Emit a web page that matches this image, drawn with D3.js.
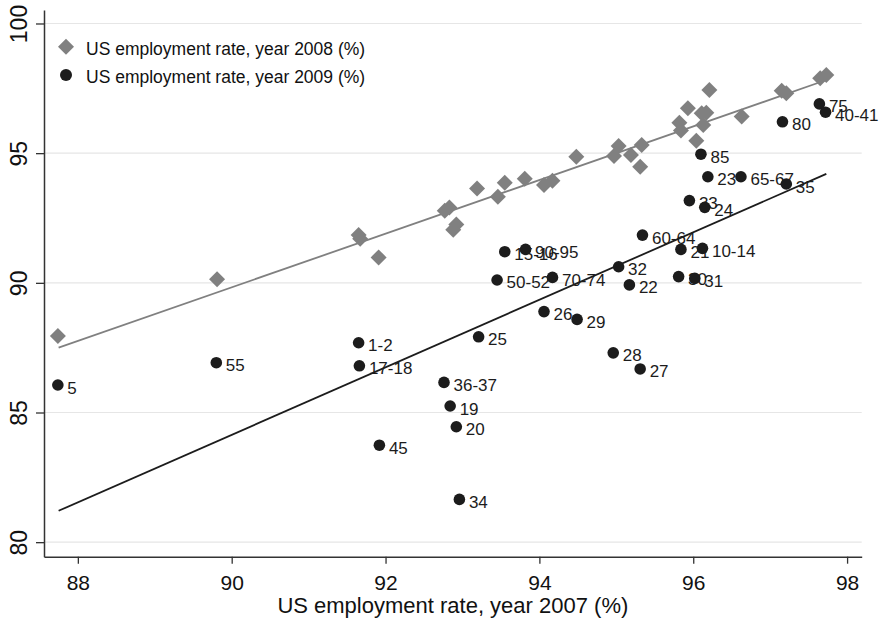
<!DOCTYPE html>
<html>
<head>
<meta charset="utf-8">
<script src="https://cdn.jsdelivr.net/npm/d3@7"></script>
<style>
  html, body { margin: 0; padding: 0; background: #fff; }
  svg { display: block; font-family: "Liberation Sans", Arial, Helvetica, sans-serif; }
</style>
</head>
<body>
<svg id="chart" width="884" height="622"></svg>
<script>
// Employment rate by industry: 2007 (x) against 2008 and 2009 (y), in percent.
const rate2007a = [87.74, 89.81, 91.65, 91.67, 91.91, 92.77, 92.83, 92.92, 92.88, 93.19,
                   93.46, 93.55, 93.81, 94.06, 94.17, 94.48, 94.97, 95.03, 95.19, 95.31,
                   95.33, 95.82, 95.84, 95.93, 96.04, 96.11, 96.13, 96.17, 96.21, 96.63,
                   97.15, 97.21, 97.65, 97.73];
const rate2008 = [87.95, 90.14, 91.84, 91.70, 90.98, 92.78, 92.90, 92.25, 92.05, 93.64,
                  93.32, 93.86, 94.01, 93.77, 93.94, 94.86, 94.89, 95.28, 94.93, 94.48,
                  95.31, 96.17, 95.87, 96.73, 95.48, 96.54, 96.09, 96.56, 97.44, 96.41,
                  97.41, 97.31, 97.89, 98.01];

const industryCodes = ["5", "55", "1-2", "17-18", "36-37", "19", "20", "45", "34", "25",
                       "15-16", "90-95", "50-52", "70-74", "26", "29", "32", "22", "60-64", "28",
                       "27", "21", "10-14", "30", "31", "33", "23", "24", "65-67", "35",
                       "85", "80", "75", "40-41"];
const rate2007b = [87.74, 89.80, 91.65, 91.66, 92.76, 92.84, 92.92, 91.92, 92.96, 93.21,
                   93.55, 93.82, 93.45, 94.17, 94.06, 94.49, 95.03, 95.17, 95.34, 94.96,
                   95.31, 95.84, 96.12, 95.81, 96.02, 95.95, 96.19, 96.15, 96.62, 97.21,
                   96.10, 97.16, 97.64, 97.72];
const rate2009 = [86.06, 86.92, 87.69, 86.80, 86.16, 85.25, 84.45, 83.74, 81.65, 87.92,
                  91.20, 91.29, 90.11, 90.21, 88.89, 88.59, 90.62, 89.92, 91.84, 87.30,
                  86.68, 91.29, 91.33, 90.24, 90.17, 93.17, 94.09, 92.91, 94.09, 93.81,
                  94.96, 96.21, 96.90, 96.58];

// Linear fit endpoints (x = 2007 rate, y = fitted rate)
const fit2008 = [[87.75, 87.50], [97.73, 97.82]];
const fit2009 = [[87.75, 81.21], [97.73, 94.20]];

const xTicks = [88, 90, 92, 94, 96, 98];
const yTicks = [80, 85, 90, 95, 100];
const legendLabels = ["US employment rate, year 2008 (%)", "US employment rate, year 2009 (%)"];
const xTitle = "US employment rate, year 2007 (%)";

const GRAY = "#808080";
const DARK = "#1c1c1c";

const svg = d3.select("#chart");
const x = d3.scaleLinear().domain([87.56, 98.19]).range([44, 861.7]);
const y = d3.scaleLinear().domain([79.44, 100.52]).range([556.7, 10]);

// horizontal grid lines
svg.append("g").selectAll("line").data(yTicks).join("line")
  .attr("x1", x.range()[0]).attr("x2", x.range()[1])
  .attr("y1", d => y(d)).attr("y2", d => y(d))
  .attr("stroke", "#e6e6e6").attr("stroke-width", 1.2);

// axes
const xAxis = svg.append("g").attr("transform", `translate(0,${y.range()[0]})`)
  .call(d3.axisBottom(x).tickValues(xTicks).tickFormat(d3.format("d")).tickSize(7).tickSizeOuter(0).tickPadding(8));
const yAxis = svg.append("g").attr("transform", `translate(${x.range()[0]},0)`)
  .call(d3.axisLeft(y).tickValues(yTicks).tickFormat(d3.format("d")).tickSize(8).tickSizeOuter(0));

[xAxis, yAxis].forEach(g => {
  g.select(".domain").attr("stroke", "#333").attr("stroke-width", 1.5);
  g.selectAll(".tick line").attr("stroke", "#333").attr("stroke-width", 1.3);
  g.selectAll("text").attr("fill", "#111")
    .style("font-family", "'Liberation Sans', Arial, Helvetica, sans-serif");
});
xAxis.selectAll(".tick text").style("font-size", "21px").attr("dy", null).attr("y", 33);
yAxis.selectAll(".tick text").style("font-size", "23px")
  .attr("x", null).attr("dy", null).attr("y", null)
  .attr("text-anchor", "middle")
  .attr("transform", "translate(-17,0) rotate(-90)");

svg.append("text")
  .attr("x", (x.range()[0] + x.range()[1]) / 2).attr("y", 613)
  .attr("text-anchor", "middle").attr("fill", "#111")
  .style("font-size", "22px").text(xTitle);

const diamond = d3.symbol().type(d3.symbolSquare).size(128);

// 2008 markers
svg.append("g").selectAll("path").data(rate2008).join("path")
  .attr("d", diamond)
  .attr("transform", (d, i) => `translate(${x(rate2007a[i])},${y(d)}) rotate(45)`)
  .attr("fill", GRAY);

// 2009 markers with industry labels
const pts = svg.append("g");
rate2009.forEach((v, i) => {
  pts.append("circle").attr("cx", x(rate2007b[i])).attr("cy", y(v)).attr("r", 5.8).attr("fill", DARK);
  pts.append("text").attr("x", x(rate2007b[i]) + 9.5).attr("y", y(v) + 8.5)
    .attr("fill", DARK).style("font-size", "17px").text(industryCodes[i]);
});

// fit lines
const line = d3.line().x(d => x(d[0])).y(d => y(d[1]));
svg.append("path").attr("d", line(fit2008)).attr("fill", "none").attr("stroke", GRAY).attr("stroke-width", 1.8);
svg.append("path").attr("d", line(fit2009)).attr("fill", "none").attr("stroke", DARK).attr("stroke-width", 1.8);

// legend
const legend = svg.append("g");
legend.append("path").attr("d", diamond).attr("transform", "translate(66,46.7) rotate(45)").attr("fill", GRAY);
legend.append("circle").attr("cx", 66).attr("cy", 75).attr("r", 6).attr("fill", DARK);
legend.selectAll("text").data(legendLabels).join("text")
  .attr("x", 86).attr("y", (d, i) => 55 + i * 27.7)
  .attr("fill", "#111").style("font-size", "17.5px").text(d => d);
</script>
</body>
</html>
